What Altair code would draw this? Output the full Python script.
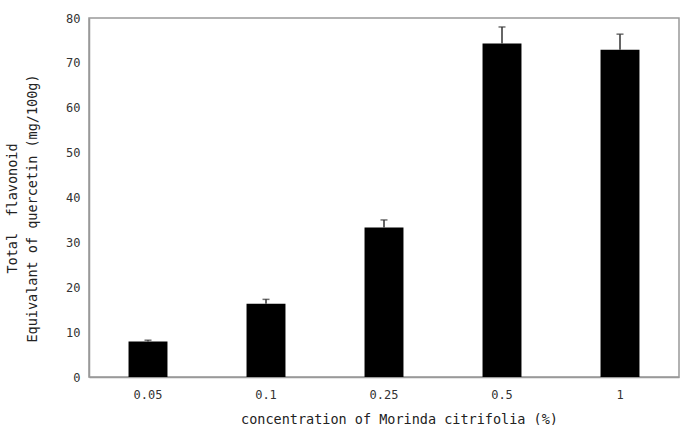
import altair as alt
import pandas as pd

concentrations = ["0.05", "0.1", "0.25", "0.5", "1"]
means = [7.9, 16.3, 33.3, 74.3, 72.9]
upper = [8.2, 17.3, 35.0, 78.0, 76.4]

df = pd.DataFrame({"conc": concentrations, "mean": means, "upper": upper})

FONT = "DejaVu Sans Mono"

x = alt.X(
    "conc:N",
    sort=concentrations,
    scale=alt.Scale(paddingInner=0.67, paddingOuter=0.335),
    axis=alt.Axis(
        title="concentration of Morinda citrifolia (%)",
        labelAngle=0,
        ticks=False,
        labelPadding=12,
        labelFont=FONT,
        labelFontSize=12,
        labelColor="#333333",
        titleFont=FONT,
        titleFontSize=13.5,
        titleFontWeight="normal",
        titleColor="#222222",
        titleX=310,
        titleY=42,
        titleBaseline="middle",
        domainColor="#999999",
        domainWidth=1.5,
    ),
)

y_axis = alt.Axis(
    title=["Total\u00a0\u00a0flavonoid", "Equivalant of quercetin (mg/100g)"],
    values=[0, 10, 20, 30, 40, 50, 60, 70, 80],
    ticks=False,
    grid=False,
    labelPadding=9,
    labelFont=FONT,
    labelFontSize=12,
    labelColor="#333333",
    titleFont=FONT,
    titleFontSize=13.5,
    titleFontWeight="normal",
    titleColor="#222222",
    titleAngle=270,
    titleX=-77,
    titleY=190,
    titleAlign="center",
    titleBaseline="middle",
    titleLineHeight=20,
    domainColor="#999999",
    domainWidth=1.5,
)

base = alt.Chart(df)

bars = base.mark_bar(color="black").encode(
    x=x,
    y=alt.Y("mean:Q", scale=alt.Scale(domain=[0, 80], nice=False), axis=y_axis),
)

err = base.mark_rule(color="#333333", strokeWidth=1.5).encode(
    x=alt.X("conc:N", sort=concentrations),
    y="mean:Q",
    y2="upper:Q",
)

cap = base.mark_tick(color="#333333", thickness=1.5, size=7, orient="horizontal").encode(
    x=alt.X("conc:N", sort=concentrations),
    y="upper:Q",
)

chart = (
    alt.layer(bars, err, cap)
    .properties(
        width=590,
        height=359,
        autosize=alt.AutoSizeParams(type="none"),
        padding={"left": 89, "top": 18, "right": 6, "bottom": 48},
        background="white",
    )
    .configure_view(stroke="#999999", strokeWidth=1.5)
)

chart.save("out.html", embed_options={"renderer": "svg", "actions": False})
